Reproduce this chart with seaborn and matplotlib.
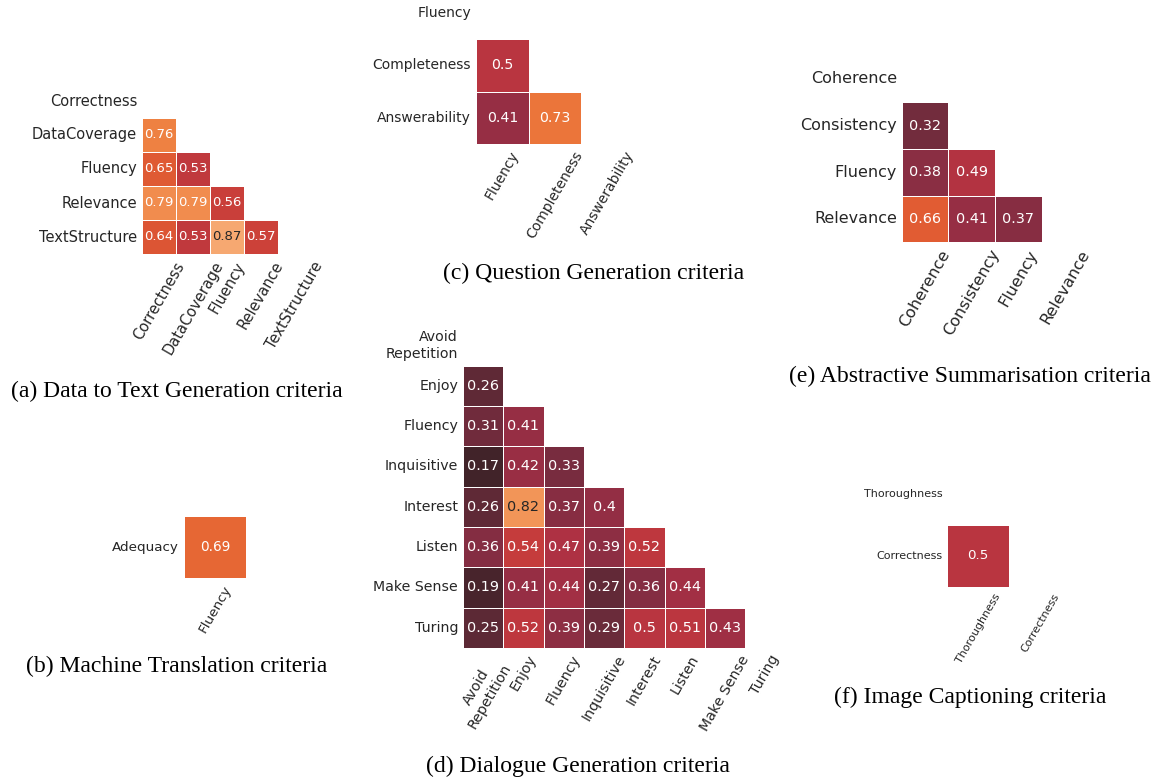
import matplotlib
matplotlib.use("Agg")
import matplotlib.pyplot as plt
import seaborn as sns
import numpy as np
import pandas as pd

sns.set_theme(style="white")
plt.rcParams["font.family"] = ["DejaVu Sans"]

# ---- data (lower triangle of each correlation matrix) ----
d2t_labels = ["Correctness", "DataCoverage", "Fluency", "Relevance", "TextStructure"]
d2t_lower = [[0.76],
             [0.65, 0.53],
             [0.79, 0.79, 0.56],
             [0.64, 0.53, 0.87, 0.57]]

mt_rows = ["Adequacy"]
mt_cols = ["Fluency"]
mt_values = [[0.69]]

qg_labels = ["Fluency", "Completeness", "Answerability"]
qg_lower = [[0.5],
            [0.41, 0.73]]

dg_labels = ["Avoid\nRepetition", "Enjoy", "Fluency", "Inquisitive",
             "Interest", "Listen", "Make Sense", "Turing"]
dg_lower = [[0.26],
            [0.31, 0.41],
            [0.17, 0.42, 0.33],
            [0.26, 0.82, 0.37, 0.4],
            [0.36, 0.54, 0.47, 0.39, 0.52],
            [0.19, 0.41, 0.44, 0.27, 0.36, 0.44],
            [0.25, 0.52, 0.39, 0.29, 0.5, 0.51, 0.43]]

as_labels = ["Coherence", "Consistency", "Fluency", "Relevance"]
as_lower = [[0.32],
            [0.38, 0.49],
            [0.66, 0.41, 0.37]]

ic_labels = ["Thoroughness", "Correctness"]
ic_lower = [[0.5]]

W, H = 1161, 782


def full_matrix(labels, lower):
    n = len(labels)
    m = np.eye(n)
    for i, row in enumerate(lower, start=1):
        for j, v in enumerate(row):
            m[i, j] = v
            m[j, i] = v
    return pd.DataFrame(m, index=labels, columns=labels)


def px_axes(fig, x0, y0, size):
    return fig.add_axes([x0 / W, 1 - (y0 + size) / H, size / W, size / H])


def draw(ax, df, mask, tick_fs, annot_fs):
    sns.heatmap(df, mask=mask, ax=ax, cmap="icefire", vmin=-1, vmax=1, center=0,
                annot=True, fmt=".2g", annot_kws={"size": annot_fs},
                linewidths=0.7, linecolor="white", cbar=False, square=True)
    ax.set_xticklabels(ax.get_xticklabels(), rotation=60, fontsize=tick_fs)
    ax.set_yticklabels(ax.get_yticklabels(), rotation=0, fontsize=tick_fs)
    ax.tick_params(length=0)


def tri(labels, lower):
    df = full_matrix(labels, lower)
    mask = np.triu(np.ones_like(df.values, dtype=bool))
    return df, mask


fig = plt.figure(figsize=(W / 100, H / 100), dpi=100)

# (a)
ax = px_axes(fig, 142, 84, 170)
df, mask = tri(d2t_labels, d2t_lower)
draw(ax, df, mask, 10.5, 9.5)

# (b)
ax = px_axes(fig, 184, 516, 62)
df = pd.DataFrame(mt_values, index=mt_rows, columns=mt_cols)
draw(ax, df, None, 9.7, 9.8)

# (c)
ax = px_axes(fig, 476, -13.5, 157.5)
df, mask = tri(qg_labels, qg_lower)
draw(ax, df, mask, 10, 10.2)

# (d)
ax = px_axes(fig, 463, 325.4, 322.4)
df, mask = tri(dg_labels, dg_lower)
draw(ax, df, mask, 10.2, 10.4)

# (e)
ax = px_axes(fig, 901.7, 55.6, 186.7)
df, mask = tri(as_labels, as_lower)
draw(ax, df, mask, 11.5, 10.4)

# (f)
ax = px_axes(fig, 947, 462.5, 124.6)
df, mask = tri(ic_labels, ic_lower)
draw(ax, df, mask, 8, 9.6)

captions = [("(a) Data to Text Generation criteria", 177, 391),
            ("(b) Machine Translation criteria", 177, 666),
            ("(c) Question Generation criteria", 594, 273),
            ("(d) Dialogue Generation criteria", 578, 766),
            ("(e) Abstractive Summarisation criteria", 970, 376),
            ("(f) Image Captioning criteria", 970, 697)]
for text, cx, cy in captions:
    fig.text(cx / W, 1 - cy / H, text, ha="center", va="center",
             fontsize=17, family="Liberation Serif", color="black")

fig.savefig("out.png", dpi=100)
